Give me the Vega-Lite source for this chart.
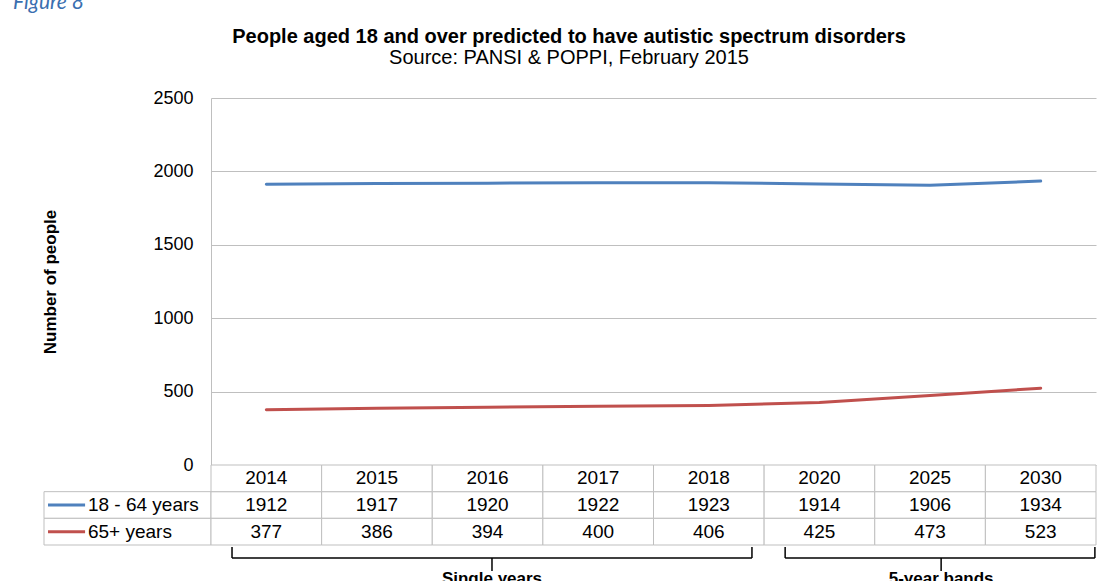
{
  "$schema": "https://vega.github.io/schema/vega-lite/v6.json",
  "background": "white",
  "padding": {"left": 12, "top": -8, "right": 5, "bottom": 0},
  "title": {
    "text": "Figure 8",
    "anchor": "start",
    "font": "Lato",
    "fontStyle": "italic",
    "fontWeight": "normal",
    "fontSize": 21,
    "color": "#3a6fb0",
    "dx": -29,
    "offset": 14
  },
  "datasets": {
    "series": [
      {"year": "2014", "group": "18 - 64 years", "value": 1912},
      {"year": "2015", "group": "18 - 64 years", "value": 1917},
      {"year": "2016", "group": "18 - 64 years", "value": 1920},
      {"year": "2017", "group": "18 - 64 years", "value": 1922},
      {"year": "2018", "group": "18 - 64 years", "value": 1923},
      {"year": "2020", "group": "18 - 64 years", "value": 1914},
      {"year": "2025", "group": "18 - 64 years", "value": 1906},
      {"year": "2030", "group": "18 - 64 years", "value": 1934},
      {"year": "2014", "group": "65+ years", "value": 377},
      {"year": "2015", "group": "65+ years", "value": 386},
      {"year": "2016", "group": "65+ years", "value": 394},
      {"year": "2017", "group": "65+ years", "value": 400},
      {"year": "2018", "group": "65+ years", "value": 406},
      {"year": "2020", "group": "65+ years", "value": 425},
      {"year": "2025", "group": "65+ years", "value": 473},
      {"year": "2030", "group": "65+ years", "value": 523}
    ],
    "brackets": [
      {"label": "Single years", "start": 0.19, "end": 4.89, "mid": 2.54},
      {"label": "5-year bands", "start": 5.19, "end": 7.99, "mid": 6.6}
    ]
  },
  "columns": 2,
  "bounds": "flush",
  "spacing": {"row": 0, "column": 0},
  "concat": [
    {
      "width": 167,
      "height": 367,
      "data": {"values": []},
      "mark": "point"
    },
    {
      "width": 885,
      "height": 367,
      "title": {
        "text": "People aged 18 and over predicted to have autistic spectrum disorders",
        "subtitle": "Source: PANSI & POPPI, February 2015",
        "frame": "bounds",
        "font": "Liberation Sans",
        "fontSize": 20,
        "fontWeight": "bold",
        "color": "black",
        "subtitleFont": "Liberation Sans",
        "subtitleFontSize": 20,
        "subtitleColor": "black",
        "subtitlePadding": 1,
        "anchor": "middle",
        "offset": 21
      },
      "data": {"name": "series"},
      "mark": {"type": "line", "strokeWidth": 3, "strokeCap": "round"},
      "encoding": {
        "x": {"field": "year", "type": "ordinal", "scale": {"type": "point", "padding": 0.5}, "axis": null},
        "y": {
          "field": "value",
          "type": "quantitative",
          "scale": {"domain": [0, 2500], "nice": false},
          "axis": {
            "values": [0, 500, 1000, 1500, 2000, 2500],
            "format": "d",
            "title": "Number of people",
            "titleFont": "Liberation Sans",
            "titleFontSize": 17,
            "titleFontWeight": "bold",
            "titleColor": "black",
            "titlePadding": 93,
            "labelFont": "Liberation Sans",
            "labelFontSize": 18,
            "labelColor": "black",
            "labelPadding": 18,
            "ticks": false,
            "domainColor": "#bfbfbf",
            "gridColor": "#bfbfbf",
            "gridOpacity": 1
          }
        },
        "color": {
          "field": "group",
          "type": "nominal",
          "scale": {"domain": ["18 - 64 years", "65+ years"], "range": ["#4f81bd", "#c0504d"]},
          "legend": null
        }
      }
    },
    {
      "width": 167,
      "height": 80,
      "data": {"name": "series"},
      "transform": [{"filter": "datum.year === '2014'"}],
      "layer": [
        {
          "mark": {"type": "rect", "fill": "white", "stroke": "#bfbfbf", "strokeWidth": 1},
          "encoding": {
            "x": {"datum": 0, "type": "quantitative", "scale": {"domain": [0, 1], "nice": false, "zero": false}, "axis": null},
            "x2": {"datum": 1},
            "y": {"field": "group", "type": "nominal", "scale": {"type": "band", "domain": ["Year", "18 - 64 years", "65+ years"], "paddingInner": 0, "paddingOuter": 0}, "axis": null}
          }
        },
        {
          "mark": {"type": "rule", "strokeWidth": 3},
          "encoding": {
            "x": {"datum": 0.024, "type": "quantitative"},
            "x2": {"datum": 0.246},
            "y": {"field": "group", "type": "nominal"},
            "color": {
              "field": "group",
              "type": "nominal",
              "scale": {"domain": ["18 - 64 years", "65+ years"], "range": ["#4f81bd", "#c0504d"]},
              "legend": null
            }
          }
        },
        {
          "mark": {"type": "text", "align": "left", "baseline": "middle", "font": "Liberation Sans", "fontSize": 19, "color": "black"},
          "encoding": {
            "x": {"datum": 0.263, "type": "quantitative"},
            "y": {"field": "group", "type": "nominal"},
            "text": {"field": "group"}
          }
        }
      ]
    },
    {
      "width": 885,
      "height": 80,
      "data": {"name": "series"},
      "layer": [
        {
          "mark": {"type": "rect", "fill": "white", "stroke": "#bfbfbf", "strokeWidth": 1},
          "encoding": {
            "x": {"field": "year", "type": "ordinal", "scale": {"type": "band", "paddingInner": 0, "paddingOuter": 0}, "axis": null},
            "y": {"field": "group", "type": "nominal", "scale": {"type": "band", "domain": ["Year", "18 - 64 years", "65+ years"], "paddingInner": 0, "paddingOuter": 0}, "axis": null}
          }
        },
        {
          "transform": [{"filter": "datum.group === '18 - 64 years'"}],
          "mark": {"type": "rect", "fill": "white", "stroke": "#bfbfbf", "strokeWidth": 1},
          "encoding": {
            "x": {"field": "year", "type": "ordinal"},
            "y": {"datum": "Year", "type": "nominal"}
          }
        },
        {
          "mark": {"type": "text", "align": "center", "baseline": "middle", "font": "Liberation Sans", "fontSize": 19, "color": "black"},
          "encoding": {
            "x": {"field": "year", "type": "ordinal"},
            "y": {"field": "group", "type": "nominal"},
            "text": {"field": "value", "type": "quantitative", "format": "d"}
          }
        },
        {
          "transform": [{"filter": "datum.group === '18 - 64 years'"}],
          "mark": {"type": "text", "align": "center", "baseline": "middle", "font": "Liberation Sans", "fontSize": 19, "color": "black"},
          "encoding": {
            "x": {"field": "year", "type": "ordinal"},
            "y": {"datum": "Year", "type": "nominal"},
            "text": {"field": "year"}
          }
        }
      ]
    },
    {
      "width": 167,
      "height": 45,
      "data": {"values": []},
      "mark": "point"
    },
    {
      "width": 885,
      "height": 45,
      "data": {"name": "brackets"},
      "encoding": {},
      "layer": [
        {
          "mark": {"type": "rule", "color": "black", "strokeWidth": 1.5},
          "encoding": {
            "x": {"field": "start", "type": "quantitative", "scale": {"domain": [0, 8], "nice": false, "zero": false}, "axis": null},
            "x2": {"field": "end"},
            "y": {"datum": 13, "type": "quantitative", "scale": {"domain": [0, 45], "reverse": true, "nice": false}, "axis": null}
          }
        },
        {
          "mark": {"type": "rule", "color": "black", "strokeWidth": 1.5},
          "encoding": {
            "x": {"field": "start", "type": "quantitative"},
            "y": {"datum": 2, "type": "quantitative"},
            "y2": {"datum": 13}
          }
        },
        {
          "mark": {"type": "rule", "color": "black", "strokeWidth": 1.5},
          "encoding": {
            "x": {"field": "end", "type": "quantitative"},
            "y": {"datum": 2, "type": "quantitative"},
            "y2": {"datum": 13}
          }
        },
        {
          "mark": {"type": "rule", "color": "black", "strokeWidth": 1.5},
          "encoding": {
            "x": {"field": "mid", "type": "quantitative"},
            "y": {"datum": 13, "type": "quantitative"},
            "y2": {"datum": 26}
          }
        },
        {
          "mark": {"type": "text", "align": "center", "baseline": "alphabetic", "font": "Liberation Sans", "fontSize": 17, "fontWeight": "bold", "color": "black"},
          "encoding": {
            "x": {"field": "mid", "type": "quantitative"},
            "y": {"datum": 39, "type": "quantitative"},
            "text": {"field": "label"}
          }
        }
      ]
    }
  ],
  "config": {
    "font": "Liberation Sans",
    "view": {"stroke": null}
  }
}
